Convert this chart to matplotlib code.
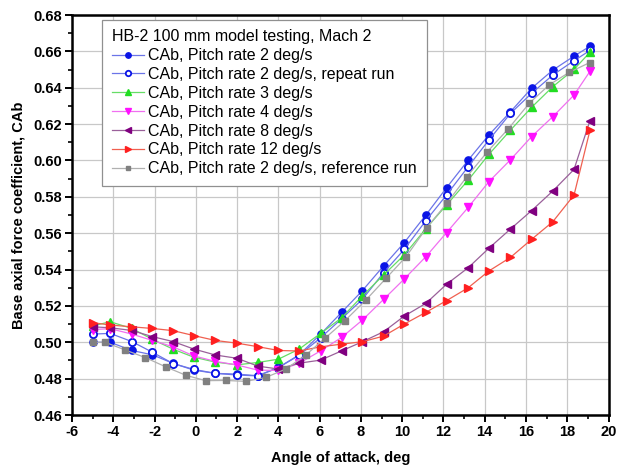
import matplotlib
matplotlib.use("Agg")
import matplotlib.pyplot as plt
from matplotlib.ticker import MultipleLocator

plt.rcParams['font.family'] = ['Liberation Sans', 'DejaVu Sans']
plt.rcParams['axes.unicode_minus'] = False

x_main = [-5.0, -4.15, -3.1, -2.1, -1.1, -0.1, 0.95, 2.0, 3.0, 4.0, 5.0, 6.05, 7.07, 8.07,
          9.1, 10.1, 11.15, 12.15, 13.2, 14.2, 15.25, 16.27, 17.3, 18.33, 19.1]
x_ref = [-5.0, -4.4, -3.43, -2.45, -1.44, -0.47, 0.48, 1.45, 2.43, 3.4, 4.37, 5.34, 6.26, 7.23,
         8.24, 9.22, 10.19, 11.19, 12.16, 13.13, 14.13, 15.15, 16.17, 17.14, 18.1, 19.08]

cab_2 = [0.500, 0.500, 0.4955, 0.4931, 0.4884, 0.4847, 0.4829, 0.4825, 0.4816, 0.4862, 0.493,
         0.5045, 0.5165, 0.5284, 0.542, 0.5548, 0.570, 0.585, 0.6002, 0.614, 0.6268, 0.6397,
         0.6497, 0.6574, 0.6628]
cab_2_repeat = [0.5045, 0.5049, 0.5004, 0.4945, 0.4883, 0.4851, 0.4829, 0.482, 0.4815, 0.486,
                0.4928, 0.5025, 0.513, 0.5236, 0.5383, 0.5511, 0.5669, 0.581, 0.5966, 0.6112,
                0.6259, 0.6369, 0.647, 0.6549, 0.6605]
cab_3 = [0.509, 0.5113, 0.5076, 0.5016, 0.4962, 0.4918, 0.4891, 0.4876, 0.4889, 0.4907, 0.4962,
         0.5049, 0.5135, 0.5255, 0.537, 0.548, 0.5625, 0.5755, 0.5892, 0.6033, 0.6167, 0.6292,
         0.6406, 0.6501, 0.6595]
cab_4 = [0.507, 0.5075, 0.5045, 0.501, 0.4975, 0.4925, 0.4895, 0.4875, 0.4847, 0.4845, 0.4884,
         0.4953, 0.5027, 0.5122, 0.5236, 0.5348, 0.5471, 0.5603, 0.5742, 0.5883, 0.6004, 0.6131,
         0.6241, 0.636, 0.649]
cab_8 = [0.5085, 0.508, 0.5065, 0.5031, 0.5004, 0.4963, 0.493, 0.4912, 0.4869, 0.4853, 0.4885,
         0.4902, 0.4953, 0.5003, 0.5058, 0.5144, 0.5214, 0.5319, 0.541, 0.5517, 0.5623, 0.5724,
         0.5832, 0.5951, 0.6219]
cab_12 = [0.5108, 0.5095, 0.5085, 0.5076, 0.5064, 0.5037, 0.501, 0.4995, 0.4976, 0.4955, 0.4952,
          0.4975, 0.499, 0.5003, 0.5034, 0.510, 0.5165, 0.5229, 0.530, 0.5392, 0.5467, 0.5566,
          0.5663, 0.581, 0.6165]
cab_2_ref = [0.500, 0.500, 0.4958, 0.4916, 0.4864, 0.4818, 0.4789, 0.479, 0.4785, 0.4807, 0.4853,
             0.4931, 0.5022, 0.5119, 0.5232, 0.5352, 0.5471, 0.563, 0.5764, 0.591, 0.6048,
             0.6175, 0.6316, 0.6417, 0.6485, 0.6538]

labels = ["CAb, Pitch rate 2 deg/s",
          "CAb, Pitch rate 2 deg/s, repeat run",
          "CAb, Pitch rate 3 deg/s",
          "CAb, Pitch rate 4 deg/s",
          "CAb, Pitch rate 8 deg/s",
          "CAb, Pitch rate 12 deg/s",
          "CAb, Pitch rate 2 deg/s, reference run"]
legend_title = "HB-2 100 mm model testing, Mach 2"

fig = plt.figure(figsize=(6.25, 4.7), dpi=100)
ax = fig.add_axes([0.1152, 0.117, 0.8584, 0.851])

series = [
    (x_main, cab_2, dict(marker='o', mfc='#0a14e6', mec='#0a14e6', ms=5.2), '#6b74e8'),
    (x_main, cab_2_repeat, dict(marker='o', mfc='white', mec='#0a14e6', ms=5.2, mew=1.3), '#6b74e8'),
    (x_main, cab_3, dict(marker='^', mfc='#22dd22', mec='#22dd22', ms=5.5), '#66dd66'),
    (x_main, cab_4, dict(marker='v', mfc='#ff10ff', mec='#ff10ff', ms=5.5), '#f070f0'),
    (x_main, cab_8, dict(marker='<', mfc='#800080', mec='#800080', ms=5.5), '#9a609a'),
    (x_main, cab_12, dict(marker='>', mfc='#ff2020', mec='#ff2020', ms=5.5), '#f06050'),
    (x_ref, cab_2_ref, dict(marker='s', mfc='#808080', mec='#808080', ms=4.5), '#b0b0b0'),
]

handles = []
for (xs, ys, st, lc), lab in zip(series, labels):
    h, = ax.plot(xs, ys, lw=0.9, color=lc, label=lab, zorder=3, **st)
    handles.append(h)

ax.set_xlim(-6, 20)
ax.set_ylim(0.46, 0.68)
ax.xaxis.set_major_locator(MultipleLocator(2))
ax.xaxis.set_minor_locator(MultipleLocator(1))
ax.yaxis.set_major_locator(MultipleLocator(0.02))
ax.yaxis.set_minor_locator(MultipleLocator(0.01))
ax.yaxis.set_major_formatter(matplotlib.ticker.FormatStrFormatter('%.2f'))
ax.grid(True, which='major', color='#c8c8c8', lw=0.9, zorder=0)
ax.set_axisbelow(True)

for sp in ax.spines.values():
    sp.set_linewidth(1.8)
ax.tick_params(which='major', direction='out', length=5, width=1.4, labelsize=10.5, pad=2)
ax.tick_params(which='minor', direction='out', length=3, width=1.2)
for lab in ax.get_xticklabels() + ax.get_yticklabels():
    lab.set_fontweight('bold')

ax.set_xlabel("Angle of attack, deg", fontsize=10.5, fontweight='bold', labelpad=9)
ax.set_ylabel("Base axial force coefficient, CAb", fontsize=10.5, fontweight='bold', labelpad=6)

leg = ax.legend(handles=handles, title=legend_title, loc='upper left',
                bbox_to_anchor=(0.056, 0.988), borderaxespad=0, fontsize=11.5,
                title_fontsize=11.5, alignment='left', fancybox=False, framealpha=1,
                edgecolor='#909090', handlelength=2.0, handletextpad=0.3,
                labelspacing=0.24, borderpad=0.6, markerscale=0.75)
leg.get_frame().set_linewidth(0.9)

fig.savefig("out.png", dpi=100)
